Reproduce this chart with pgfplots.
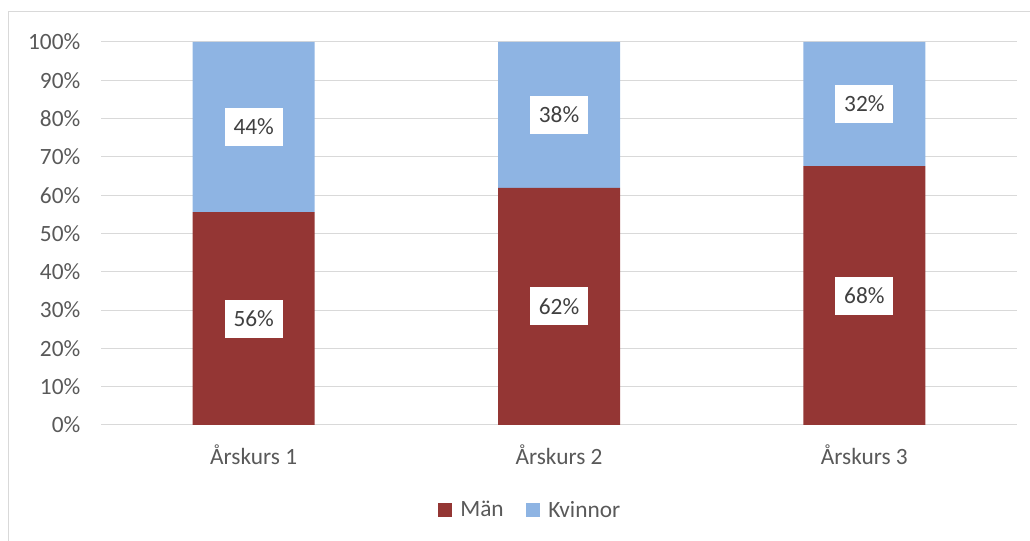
\documentclass[border=0pt]{standalone}
\usepackage{fontspec}
\setmainfont{Carlito}
\usepackage{pgfplots}
\pgfplotsset{compat=1.18}

\definecolor{manred}{HTML}{943634}
\definecolor{kvblue}{HTML}{8EB4E3}
\definecolor{gridgray}{HTML}{D9D9D9}
\definecolor{txtgray}{HTML}{595959}
\definecolor{lblgray}{HTML}{404040}

\tikzset{vallabel/.style={fill=white, text=lblgray, inner sep=0pt,
    minimum width=43.5pt, minimum height=28.5pt, anchor=center,
    font=\fontsize{17.5}{20}\selectfont}}

\pgfplotsset{samebox/.style={
  at={(75.75pt,87pt)}, anchor=south west,
  scale only axis,
  width=687pt, height=287.25pt,
  xmin=-0.5, xmax=2.5,
  ymin=0, ymax=100,
}}

% 1 px of the reference = 0.75pt
\begin{document}
\begin{tikzpicture}
\useasboundingbox (0,0) rectangle (772.5pt,405.75pt);
\draw[gridgray, line width=0.75pt] (6pt,0) -- (6pt,396.75pt) -- (772.5pt,396.75pt);
\begin{axis}[
  samebox,
  ybar stacked,
  bar width=91.5pt,
  xtick={0,1,2},
  xticklabels={Årskurs 1,Årskurs 2,Årskurs 3},
  ytick={0,10,...,100},
  yticklabel={\pgfmathprintnumber{\tick}\%},
  /pgf/number format/assume math mode=true,
  axis line style={draw=none},
  major tick length=0pt,
  ymajorgrids,
  grid style={gridgray, line width=0.75pt},
  ticklabel style={font=\fontsize{17.5}{20}\selectfont, text=txtgray},
  yticklabel style={xshift=-12pt},
  xticklabel style={yshift=-11pt},
  legend style={
    at={(0.469,-0.222)}, anchor=center,
    draw=none, fill=none,
    font=\fontsize{17.5}{20}\selectfont, text=txtgray,
    legend columns=2,
    /tikz/every odd column/.append style={column sep=4pt},
    /tikz/every even column/.append style={column sep=15pt},
  },
  legend image code/.code={\fill[#1] (0pt,-5.25pt) rectangle (10.5pt,5.25pt);},
]
\addplot[fill=manred, draw=none] coordinates {(0,55.6) (1,61.9) (2,67.6)};
\addplot[fill=kvblue, draw=none] coordinates {(0,44.4) (1,38.1) (2,32.4)};
\legend{Män,Kvinnor}
\end{axis}
% value labels, centred in each segment
\begin{axis}[samebox, hide axis]
\addplot[draw=none, mark=none,
  nodes near coords, point meta=explicit symbolic,
  nodes near coords style={vallabel}]
  coordinates {(0,27.8)[56\%] (1,30.95)[62\%] (2,33.8)[68\%]
               (0,77.8)[44\%] (1,80.95)[38\%] (2,83.8)[32\%]};
\end{axis}
\end{tikzpicture}
\end{document}
